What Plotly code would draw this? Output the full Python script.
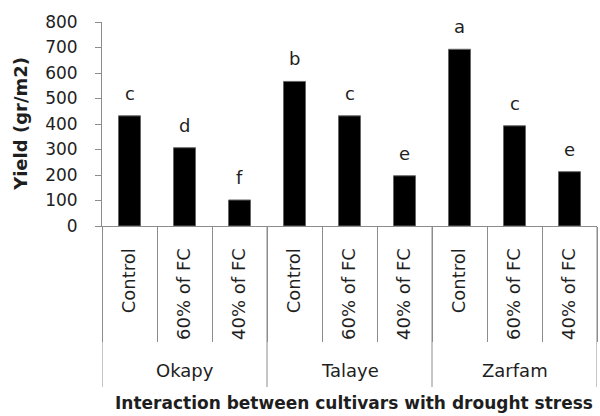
import plotly.graph_objects as go

cultivars = ["Okapy", "Okapy", "Okapy", "Talaye", "Talaye", "Talaye", "Zarfam", "Zarfam", "Zarfam"]
treatments = ["Control", "60% of FC", "40% of FC"] * 3
yield_vals = [432, 307, 102, 567, 432, 197, 693, 393, 213]
letters = ["c", "d", "f", "b", "c", "e", "a", "c", "e"]
y_ticks = [0, 100, 200, 300, 400, 500, 600, 700, 800]

FONT = "DejaVu Sans"
GRAY = "#8c8c8c"
TXT = "#1e1e1e"

ids = [f"{c} | {t}" for c, t in zip(cultivars, treatments)]
groups = list(dict.fromkeys(cultivars))
group_idx = {g: [i for i, c in enumerate(cultivars) if c == g] for g in groups}

PLOT_H = 416 - 22 - 190

fig = go.Figure()
fig.add_trace(go.Bar(
    x=ids, y=yield_vals,
    marker=dict(color="black", line=dict(color="#666666", width=1)),
    width=0.4, showlegend=False,
))

for i, (v, t) in enumerate(zip(yield_vals, letters)):
    fig.add_annotation(x=ids[i], y=v, xref="x", yref="y", text=t, showarrow=False,
                       yanchor="bottom", yshift=10, font=dict(family=FONT, size=18, color=TXT))

# cultivar (outer) labels and group dividers
bounds = [-0.5]
for g in groups:
    idx = group_idx[g]
    mid = (idx[0] + idx[-1]) / 2
    fig.add_annotation(x=mid, xref="x", yref="paper", y=0, yshift=-144, text=g,
                       showarrow=False, yanchor="middle", font=dict(family=FONT, size=18, color=TXT))
    bounds.append(idx[-1] + 0.5)
for b in bounds:
    fig.add_shape(type="line", xref="x", yref="paper", x0=b, x1=b, y0=0, y1=-161 / PLOT_H,
                  line=dict(color=GRAY, width=1))

fig.add_annotation(xref="paper", yref="paper", x=0.5, y=0, yshift=-177, xshift=4,
                   text="<b>Interaction between cultivars with drought stress</b>",
                   showarrow=False, yanchor="middle", font=dict(family=FONT, size=17, color=TXT))
fig.add_annotation(xref="paper", yref="paper", x=-0.166, y=0.5, yshift=0,
                   text="<b>Yield (gr/m2)</b>", textangle=-90,
                   showarrow=False, xanchor="center", font=dict(family=FONT, size=18, color=TXT))

fig.update_layout(
    width=600, height=416,
    margin=dict(l=102, r=3, t=22, b=190),
    plot_bgcolor="white", paper_bgcolor="white",
    font=dict(family=FONT, size=18, color=TXT),
    xaxis=dict(
        type="category", automargin=False, range=[-0.5, len(ids) - 0.5],
        tickvals=ids, ticktext=treatments,
        showline=True, linecolor=GRAY, linewidth=1,
        ticks="outside", tickson="boundaries", ticklen=115, tickcolor=GRAY,
        tickangle=-90, ticklabelstandoff=14, tickfont=dict(size=18),
    ),
    yaxis=dict(
        automargin=False,
        range=[0, 800], tickvals=y_ticks, showline=True, linecolor=GRAY, linewidth=1,
        ticks="outside", ticklen=6, tickcolor=GRAY, showgrid=False, zeroline=False,
        ticklabelstandoff=14, tickfont=dict(size=17),
    ),
)

fig.write_html("out.html", config={"displayModeBar": False},
               post_script="document.body.style.margin='0';")
